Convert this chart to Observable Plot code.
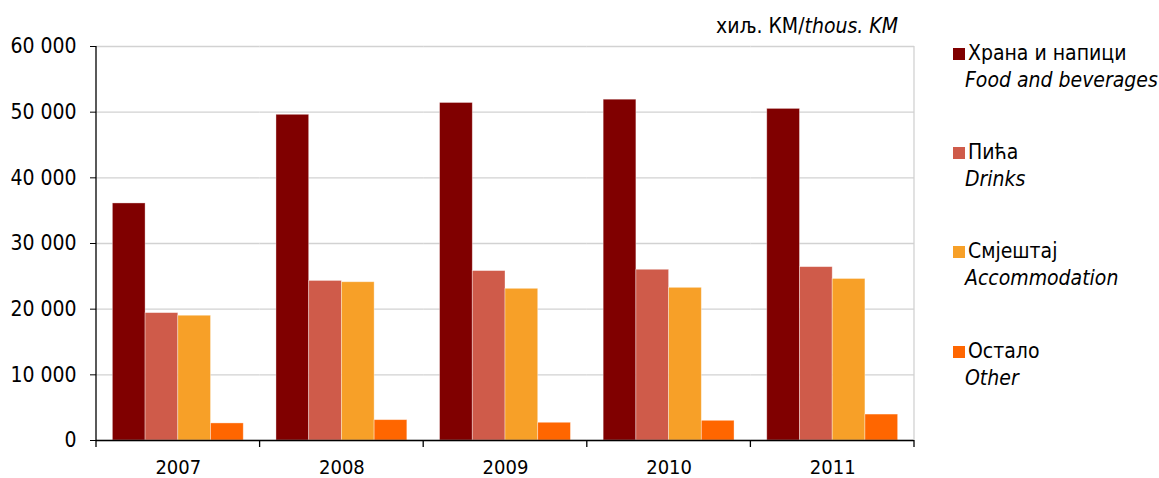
<!DOCTYPE html>
<html><head><meta charset="utf-8">
<script src="https://cdn.jsdelivr.net/npm/d3@7"></script>
<script src="https://cdn.jsdelivr.net/npm/@observablehq/plot@0.6"></script>
<style>
body{margin:0;background:#fff;font-family:"DejaVu Sans Condensed","DejaVu Sans",sans-serif;color:#000;}
#wrap{position:relative;width:1159px;height:478px;overflow:hidden;}
#wrap svg{position:absolute;left:0;top:0;}
.unit{position:absolute;right:261px;top:14px;font-size:21px;white-space:nowrap;}
.leg{position:absolute;left:953px;font-size:21px;line-height:27px;white-space:nowrap;}
.leg .sw{position:absolute;left:0;top:8px;width:12px;height:12px;}
.leg .t{margin-left:15px;}
.leg i{display:block;margin-left:12px;}
</style></head><body><div id="wrap"></div>
<script>
const years = ["2007","2008","2009","2010","2011"];
const seriesBS = ["Храна и напици","Пића","Смјештај","Остало"];
const seriesEN = ["Food and beverages","Drinks","Accommodation","Other"];
const colors = ["#800000","#CF5B4A","#F7A028","#FF6600"];
const food = [36100,49600,51400,51900,50500];
const drinks = [19400,24300,25800,26000,26400];
const accommodation = [19000,24100,23100,23250,24600];
const other = [2600,3100,2700,3000,3950];
const yTicks = [0,10000,20000,30000,40000,50000,60000];
const unitBS = "хиљ. КМ/";
const unitEN = "thous. KM";
const legendTops = [40,139,238,338];

const valuesBySeries = [food, drinks, accommodation, other];
const data = [];
years.forEach((yr, i) => seriesEN.forEach((s, j) => data.push({year: yr, series: s, value: valuesBySeries[j][i]})));

const fmt = d => d3.format(",")(d).replace(/,/g, " ");
const font = '"DejaVu Sans Condensed","DejaVu Sans",sans-serif';

const plot = Plot.plot({
  width: 1159, height: 478,
  marginLeft: 96, marginRight: 245, marginTop: 46, marginBottom: 38,
  style: {fontFamily: font, fontSize: "21px", color: "#000", background: "transparent", overflow: "visible"},
  fx: {domain: years, padding: 0, round: false, label: null},
  x: {domain: seriesEN, paddingInner: 0, paddingOuter: 0.5, round: false, axis: null},
  y: {domain: [0, 60000]},
  color: {domain: seriesEN, range: colors},
  marks: [
    Plot.gridY(yTicks, {stroke: "#d2d2d2", strokeOpacity: 1, strokeWidth: 1.3}),
    Plot.barY(data, {fx: "year", x: "series", y: "value", fill: "series", stroke: "#fff", strokeOpacity: 0.45, strokeWidth: 0.8}),
    Plot.ruleY([0], {stroke: "#000", strokeWidth: 1.3}),
    Plot.axisY(yTicks, {tickSize: 6, tickPadding: 14, tickFormat: fmt, fontSize: 21, label: null}),
    Plot.axisFx({anchor: "bottom", tickSize: 0, tickPadding: 19, fontSize: 20, label: null})
  ]
});

const wrap = document.getElementById("wrap");
wrap.appendChild(plot);

const svg = d3.select(plot);
const fx = plot.scale("fx"), y = plot.scale("y");
const y0 = y.apply(0), yTop = y.apply(60000);
const xL = fx.apply(years[0]), xR = fx.apply(years[years.length - 1]) + fx.bandwidth;
svg.append("line").attr("x1", xR).attr("x2", xR).attr("y1", yTop).attr("y2", y0).attr("stroke", "#d2d2d2").attr("stroke-width", 1.3);
svg.append("line").attr("x1", xL).attr("x2", xL).attr("y1", yTop).attr("y2", y0).attr("stroke", "#000").attr("stroke-width", 1.3);
const edges = years.map(yr => fx.apply(yr)).concat([xR]);
svg.selectAll("line.edge").data(edges).join("line").attr("class", "edge")
  .attr("x1", d => d).attr("x2", d => d).attr("y1", y0).attr("y2", y0 + 7)
  .attr("stroke", "#000").attr("stroke-width", 1.3);

const u = document.createElement("div");
u.className = "unit";
u.innerHTML = unitBS + "<i>" + unitEN + "</i>";
wrap.appendChild(u);

seriesBS.forEach((s, j) => {
  const d = document.createElement("div");
  d.className = "leg";
  d.style.top = legendTops[j] + "px";
  d.innerHTML = `<span class="sw" style="background:${colors[j]}"></span><span class="t">${s}</span><i>${seriesEN[j]}</i>`;
  wrap.appendChild(d);
});
</script>
</body></html>
